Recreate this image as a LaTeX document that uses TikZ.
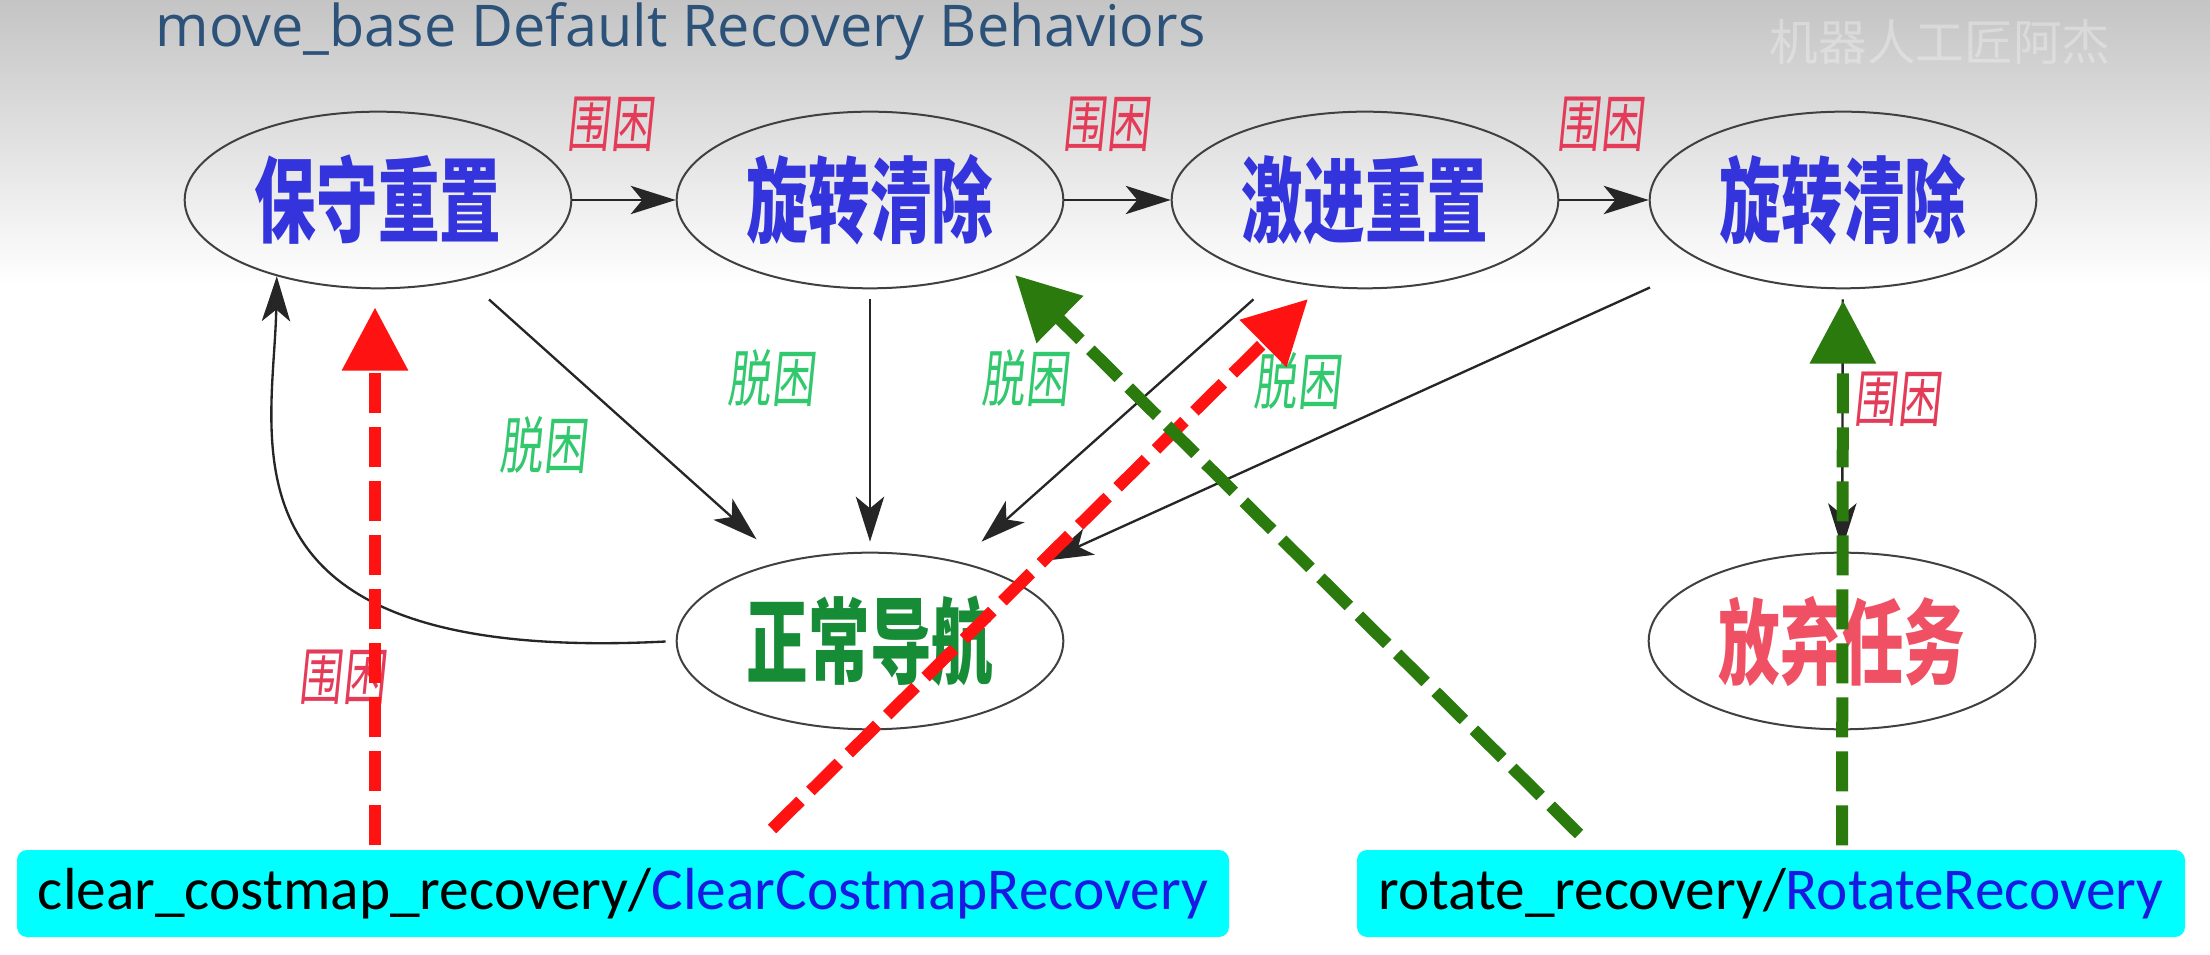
\documentclass[tikz,border=0pt]{standalone}
\usepackage{fontspec}
\setmainfont{Liberation Sans}
\newfontfamily\cjk[FakeStretch=0.66]{Noto Sans CJK SC}
\newfontfamily\cjklab[FakeStretch=0.70,FakeSlant=0.10]{Noto Sans CJK SC}
\newfontfamily\wmfont{Noto Sans CJK SC}
\newfontfamily\titlefont{Open Sans}
\newfontfamily\boxfont{Carlito}
\usetikzlibrary{shapes.geometric,arrows.meta,calc}
\definecolor{bgtop}{RGB}{196,196,196}
\definecolor{stblue}{RGB}{52,52,220}
\definecolor{navgreen}{RGB}{22,140,55}
\definecolor{quitred}{RGB}{240,80,100}
\definecolor{trapred}{RGB}{228,60,88}
\definecolor{freegreen}{RGB}{50,200,110}
\definecolor{arrred}{RGB}{255,18,18}
\definecolor{arrgreen}{RGB}{42,122,14}
\definecolor{boxcyan}{RGB}{0,255,255}
\definecolor{boxblue}{RGB}{25,25,225}
\definecolor{titleblue}{RGB}{44,82,122}
\tikzset{
  state/.style={ellipse, draw=black!75, line width=0.6pt, minimum width=116pt, minimum height=53pt, inner sep=0pt},
  stxt/.style={font=\cjk\bfseries\fontsize{28}{28}\selectfont},
  trap/.style={text=trapred, font=\cjklab\fontsize{18.6}{18.6}\selectfont, inner sep=0pt},
  free/.style={text=freegreen, font=\cjklab\fontsize{18.6}{18.6}\selectfont, inner sep=0pt},
  edge/.style={draw=black!85, line width=0.7pt, -{Stealth[length=13.5pt,width=8.5pt,inset=3.5pt]}},
  redarr/.style={draw=arrred, line width=3.6pt, dash pattern=on 12pt off 4.2pt, -{Triangle[length=19pt,width=19pt]}},
  grnarr/.style={draw=arrgreen, line width=3.6pt, dash pattern=on 12pt off 4.2pt, -{Triangle[length=19pt,width=19pt]}},
  cbox/.style={fill=boxcyan, rounded corners=3pt, inner sep=0pt, minimum height=26.1pt}
}
\begin{document}
\begin{tikzpicture}[x=0.3pt,y=-0.3pt]
\useasboundingbox (0,0) rectangle (2210,955);
\fill[white] (0,0) rectangle (2210,955);
\shade[top color=bgtop, bottom color=white] (0,0) rectangle (2210,285);

% title and watermark
\node[anchor=base west, inner sep=0pt, text=titleblue] (title) at (155,47)
  {\resizebox{315pt}{!}{\titlefont move\_base Default Recovery Behaviors}};
\node[anchor=west, inner sep=0pt, text=white, opacity=0.3, font=\wmfont\fontsize{14.6}{14.6}\selectfont] (wm) at (1769,42) {机器人工匠阿杰};

% states
\node[state, stxt, text=stblue] (n1) at (378,200) {保守重置};
\node[state, stxt, text=stblue] (n2) at (870,200) {旋转清除};
\node[state, stxt, text=stblue] (n3) at (1365,200) {激进重置};
\node[state, stxt, text=stblue] (n4) at (1843,200) {旋转清除};
\node[state, stxt, text=navgreen] (nav) at (870,641) {正常导航};
\node[state, stxt, text=quitred] (quit) at (1842,641) {放弃任务};

% labels
\node[trap] (t1) at (610,124) {围困};
\node[trap] (t2) at (1106,124) {围困};
\node[trap] (t3) at (1600,124) {围困};
\node[trap] (t4) at (1897,399) {围困};
\node[trap] (t5) at (342,677) {围困};
\node[free] (f1) at (543,445) {脱困};
\node[free] (f2) at (771,378) {脱困};
\node[free] (f3) at (1025,378) {脱困};
\node[free] (f4) at (1297,381) {脱困};

% black edges
\draw[edge] (n1) -- (n2);
\draw[edge] (n2) -- (n3);
\draw[edge] (n3) -- (n4);
\draw[edge, shorten <=9pt, shorten >=10pt] (n1) -- (nav);
\draw[edge, shorten <=3pt, shorten >=3pt] (n2) -- (nav);
\draw[edge, shorten <=9pt, shorten >=9pt] (n3) -- (nav);
\draw[edge, shorten <=18pt, shorten >=13pt] (n4) -- (nav);
\draw[edge, shorten <=3pt, shorten >=1pt] (n4) -- (quit);
\draw[edge, shorten <=3pt] (nav.west) .. controls (205,665) and (274,440) .. (n1.217);

% boxes
\node[cbox, minimum width=363.6pt] (lbox) at (623,893.5)
  {\resizebox{351pt}{!}{\boxfont clear\_costmap\_recovery/\textcolor{boxblue}{ClearCostmapRecovery}}};
\node[cbox, minimum width=248.4pt] (rbox) at (1771,893.5)
  {\resizebox{235.5pt}{!}{\boxfont rotate\_recovery/\textcolor{boxblue}{RotateRecovery}}};

% coloured recovery arrows
\coordinate (rd0) at (772,829);
\coordinate (gd0) at (1579,834);
\draw[redarr] ($(n1 |- lbox.north)+(-3,-4)$) -- ($(n1.south)+(-3,18)$);
\draw[redarr] (rd0) -- ($(n3)+(-57,99)$);
\draw[grnarr] (gd0) -- ($(n2)+(145,75)$);
\draw[grnarr] ($(quit |- rbox.north)+(0,-4)$) -- ($(n4.south)+(0,11)$);
\end{tikzpicture}
\end{document}
